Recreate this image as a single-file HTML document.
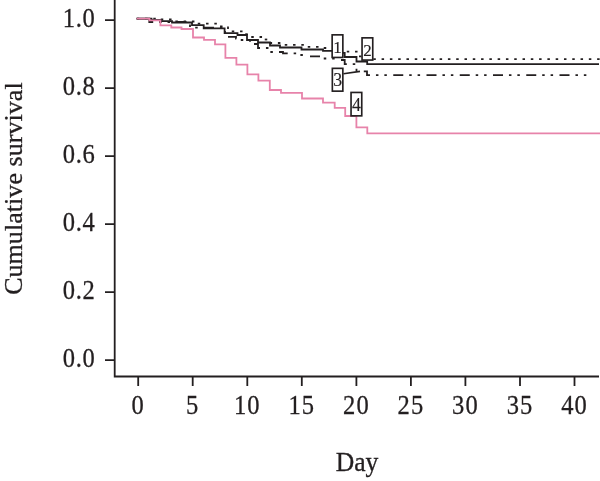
<!DOCTYPE html>
<html><head><meta charset="utf-8"><style>
html,body{margin:0;padding:0;background:#fff;}
body{width:600px;height:481px;overflow:hidden;position:relative;}
svg{position:absolute;left:0;top:0;will-change:transform;}
text{font-family:"Liberation Serif",serif;fill:#231f20;stroke:#231f20;stroke-width:0.3px;}
</style></head><body>
<svg width="600" height="481" viewBox="0 0 600 481">

<path d="M114.7,0V376.5H599" fill="none" stroke="#231f20" stroke-width="1.8"/>
<path d="M105,360.2H114.7M105,292.2H114.7M105,224.2H114.7M105,156.2H114.7M105,88.2H114.7M105,20.2H114.7M138.2,376.5V386M192.7,376.5V386M247.3,376.5V386M301.8,376.5V386M356.4,376.5V386M410.9,376.5V386M465.4,376.5V386M520.0,376.5V386M574.5,376.5V386" fill="none" stroke="#231f20" stroke-width="1.8"/>
<text transform="translate(95.6,366.8) scale(0.93,1)" font-size="26.4" text-anchor="end" letter-spacing="0.8">0.0</text>
<text transform="translate(95.6,298.8) scale(0.93,1)" font-size="26.4" text-anchor="end" letter-spacing="0.8">0.2</text>
<text transform="translate(95.6,230.8) scale(0.93,1)" font-size="26.4" text-anchor="end" letter-spacing="0.8">0.4</text>
<text transform="translate(95.6,162.8) scale(0.93,1)" font-size="26.4" text-anchor="end" letter-spacing="0.8">0.6</text>
<text transform="translate(95.6,94.8) scale(0.93,1)" font-size="26.4" text-anchor="end" letter-spacing="0.8">0.8</text>
<text transform="translate(95.6,26.8) scale(0.93,1)" font-size="26.4" text-anchor="end" letter-spacing="0.8">1.0</text>
<text transform="translate(138.2,413.8) scale(0.93,1)" font-size="26.4" text-anchor="middle" letter-spacing="1.1">0</text>
<text transform="translate(192.7,413.8) scale(0.93,1)" font-size="26.4" text-anchor="middle" letter-spacing="1.1">5</text>
<text transform="translate(247.3,413.8) scale(0.93,1)" font-size="26.4" text-anchor="middle" letter-spacing="1.1">10</text>
<text transform="translate(301.8,413.8) scale(0.93,1)" font-size="26.4" text-anchor="middle" letter-spacing="1.1">15</text>
<text transform="translate(356.4,413.8) scale(0.93,1)" font-size="26.4" text-anchor="middle" letter-spacing="1.1">20</text>
<text transform="translate(410.9,413.8) scale(0.93,1)" font-size="26.4" text-anchor="middle" letter-spacing="1.1">25</text>
<text transform="translate(465.4,413.8) scale(0.93,1)" font-size="26.4" text-anchor="middle" letter-spacing="1.1">30</text>
<text transform="translate(520.0,413.8) scale(0.93,1)" font-size="26.4" text-anchor="middle" letter-spacing="1.1">35</text>
<text transform="translate(574.5,413.8) scale(0.93,1)" font-size="26.4" text-anchor="middle" letter-spacing="1.1">40</text>
<text transform="translate(357,471.3) scale(0.95,1)" font-size="27" text-anchor="middle">Day</text>
<text transform="translate(22.4,188.6) rotate(-90)" font-size="26" text-anchor="middle" textLength="212.5" lengthAdjust="spacing">Cumulative survival</text>
<path d="M136.70,18.70L146.50,18.70" fill="none" stroke="#231f20" stroke-width="1.8" stroke-dasharray="10 5.95 2.5 5.9 2.5 6.4"/>
<path d="M146.50,18.70L149.30,18.70L149.30,22.00L190.00,22.00L190.00,27.60L204.00,27.60" fill="none" stroke="#231f20" stroke-width="1.8" stroke-dasharray="10 5.95 2.5 5.9 2.5 6.4"/>
<path d="M204.00,27.60L225.00,27.60L225.00,36.80L228.00,36.80" fill="none" stroke="#231f20" stroke-width="1.8" stroke-dasharray="10 5.95 2.5 5.9 2.5 6.4"/>
<path d="M228.00,36.80L236.00,36.80L236.00,38.50L240.00,38.50L240.00,40.00L250.00,40.00L250.00,44.00L254.00,44.00" fill="none" stroke="#231f20" stroke-width="1.8" stroke-dasharray="10 5.95 2.5 5.9 2.5 6.4"/>
<path d="M254.00,44.00L258.00,44.00L258.00,48.00L270.00,48.00L270.00,52.00L279.00,52.00" fill="none" stroke="#231f20" stroke-width="1.8" stroke-dasharray="10 5.95 2.5 5.9 2.5 6.4"/>
<path d="M279.00,52.00L283.00,52.00L283.00,53.30L300.00,53.30L300.00,55.00L308.00,55.00L308.00,56.25" fill="none" stroke="#231f20" stroke-width="1.8" stroke-dasharray="10 5.95 2.5 5.9 2.5 6.4"/>
<path d="M310.00,56.30L322.00,56.30L322.00,58.50L335.00,58.50L335.00,60.00L339.55,60.00" fill="none" stroke="#231f20" stroke-width="1.8" stroke-dasharray="10 5.95 2.5 5.9 2.5 6.4"/>
<path d="M341.00,60.00L344.70,60.00L344.70,64.20L356.50,64.20L356.50,71.40L362.85,71.40" fill="none" stroke="#231f20" stroke-width="1.8" stroke-dasharray="10 5.95 2.5 5.9 2.5 6.4"/>
<path d="M363.80,71.40L367.00,71.40L367.00,75.20L592.75,75.20" fill="none" stroke="#231f20" stroke-width="1.8" stroke-dasharray="10 5.95 2.5 5.9 2.5 6.4"/>
<path d="M136.70,18.70L160.00,18.70L160.00,19.50L172.00,19.50L172.00,21.50L196.00,21.50L196.00,23.70L197.75,23.70" fill="none" stroke="#231f20" stroke-width="1.8" stroke-dasharray="2.5 5.79"/>
<path d="M197.75,23.70L219.00,23.70L219.00,26.30L228.00,26.30L228.00,31.30L231.60,31.30" fill="none" stroke="#231f20" stroke-width="1.8" stroke-dasharray="2.5 5.79"/>
<path d="M231.75,31.30L245.00,31.30L245.00,34.20L245.25,34.20" fill="none" stroke="#231f20" stroke-width="1.8" stroke-dasharray="2.5 5.79"/>
<path d="M245.25,34.20L250.00,34.20L250.00,37.00L250.74,37.00" fill="none" stroke="#231f20" stroke-width="1.8" stroke-dasharray="2.5 5.79"/>
<path d="M251.25,37.00L264.00,37.00L264.00,39.50L264.75,39.50" fill="none" stroke="#231f20" stroke-width="1.8" stroke-dasharray="2.5 5.79"/>
<path d="M264.75,39.50L269.30,39.50L269.30,43.00L269.54,43.00" fill="none" stroke="#231f20" stroke-width="1.8" stroke-dasharray="2.5 5.79"/>
<path d="M269.60,43.00L283.00,43.00L283.00,44.80L284.38,44.80" fill="none" stroke="#231f20" stroke-width="1.8" stroke-dasharray="2.5 5.79"/>
<path d="M284.75,44.80L304.00,44.80L304.00,46.80L307.62,46.80" fill="none" stroke="#231f20" stroke-width="1.8" stroke-dasharray="2.5 5.79"/>
<path d="M307.75,46.80L322.00,46.80L322.00,48.00L323.13,48.00" fill="none" stroke="#231f20" stroke-width="1.8" stroke-dasharray="2.5 5.79"/>
<path d="M323.75,48.00L340.00,48.00L340.00,51.70L344.92,51.70" fill="none" stroke="#231f20" stroke-width="1.8" stroke-dasharray="2.5 5.79"/>
<path d="M346.75,51.70L358.50,51.70L358.50,56.30L358.73,56.30" fill="none" stroke="#231f20" stroke-width="1.8" stroke-dasharray="2.5 5.79"/>
<path d="M359.00,56.30L369.00,56.30L369.00,59.20L372.68,59.20" fill="none" stroke="#231f20" stroke-width="1.8" stroke-dasharray="2.5 5.79"/>
<path d="M373.30,59.20L600.00,59.20" fill="none" stroke="#231f20" stroke-width="1.8" stroke-dasharray="2.5 5.79"/>
<path d="M136.70,18.70L151.50,18.70L151.50,20.00L160.50,20.00L160.50,21.20L172.00,21.20L172.00,22.50L192.00,22.50L192.00,25.20L203.70,25.20L203.70,28.30L224.60,28.30L224.60,33.10L237.50,33.10L237.50,35.00L247.00,35.00L247.00,40.00L258.00,40.00L258.00,42.50L270.00,42.50L270.00,45.50L280.00,45.50L280.00,47.50L301.50,47.50L301.50,49.50L323.00,49.50L323.00,50.80L338.00,50.80L338.00,52.90L344.70,52.90L344.70,57.00L356.50,57.00L356.50,61.50L367.20,61.50L367.20,64.10L599.00,64.10" fill="none" stroke="#231f20" stroke-width="1.8"/>
<path d="M136.70,18.70L149.40,18.70L149.40,20.30L160.40,20.30L160.40,25.30L171.30,25.30L171.30,27.50L181.50,27.50L181.50,29.00L193.00,29.00L193.00,37.50L204.00,37.50L204.00,39.80L215.00,39.80L215.00,44.30L225.40,44.30L225.40,57.80L236.40,57.80L236.40,64.60L247.40,64.60L247.40,74.40L258.40,74.40L258.40,80.60L269.80,80.60L269.80,90.00L281.00,90.00L281.00,92.80L302.00,92.80L302.00,98.50L323.00,98.50L323.00,102.70L334.70,102.70L334.70,107.80L345.20,107.80L345.20,116.00L356.40,116.00L356.40,127.30L367.30,127.30L367.30,133.30L600.00,133.30" fill="none" stroke="#e783aa" stroke-width="1.8"/>
<path d="M343.5,73.8L360,71.4" fill="none" stroke="#231f20" stroke-width="1.6"/>
<rect x="332.15" y="34.85" width="10.7" height="22.6" fill="#fff" stroke="#231f20" stroke-width="1.65"/>
<text x="337.5" y="52.5" font-size="17" text-anchor="middle" style="stroke-width:0.15px">1</text>
<rect x="362.05" y="37.85" width="10.7" height="22.2" fill="#fff" stroke="#231f20" stroke-width="1.65"/>
<text x="367.4" y="55.6" font-size="17" text-anchor="middle" style="stroke-width:0.15px">2</text>
<rect x="332.35" y="68.35" width="10.5" height="22.8" fill="#fff" stroke="#231f20" stroke-width="1.65"/>
<text x="337.6" y="85.7" font-size="17.8" text-anchor="middle" style="stroke-width:0.15px">3</text>
<rect x="351.05" y="92.45" width="10.7" height="23.4" fill="#fff" stroke="#231f20" stroke-width="1.65"/>
<text x="356.4" y="110.5" font-size="17.8" text-anchor="middle" style="stroke-width:0.15px">4</text>
</svg></body></html>
